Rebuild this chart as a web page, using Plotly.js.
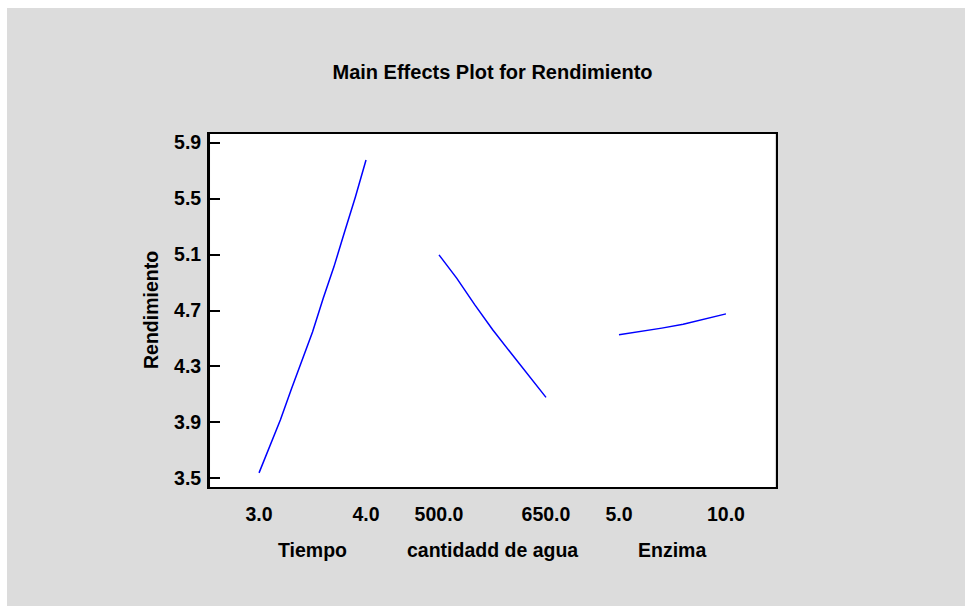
<!DOCTYPE html>
<html>
<head>
<meta charset="utf-8">
<script src="https://cdn.plot.ly/plotly-3.0.1.min.js"></script>
<style>
  html, body { margin: 0; padding: 0; background: #ffffff; width: 965px; height: 606px; overflow: hidden; }
  #chart { position: absolute; left: 7px; top: 8px; width: 958px; height: 598px; }
</style>
</head>
<body>
<div id="chart"></div>
<script>
// ---- data ----
const chartTitle = "Main Effects Plot for Rendimiento";
const yTitle = "Rendimiento";
const yTicks = [3.5, 3.9, 4.3, 4.7, 5.1, 5.5, 5.9];

const tiempoName = "Tiempo";
const tiempoX = [3.0, 3.1, 3.2, 3.3, 3.4, 3.5, 3.6, 3.7, 3.8, 3.9, 4.0];
const tiempoY = [3.539, 3.728, 3.919, 4.134, 4.343, 4.547, 4.787, 5.012, 5.263, 5.510, 5.776];
const tiempoLevels = [3.0, 4.0];
const tiempoLabels = ["3.0", "4.0"];

const aguaName = "cantidadd de agua";
const aguaX = [500, 525, 550, 575, 600, 625, 650];
const aguaY = [5.098, 4.930, 4.742, 4.564, 4.401, 4.237, 4.079];
const aguaLevels = [500, 650];
const aguaLabels = ["500.0", "650.0"];

const enzimaName = "Enzima";
const enzimaX = [5, 6, 7, 8, 9, 10];
const enzimaY = [4.526, 4.549, 4.574, 4.601, 4.636, 4.676];
const enzimaLevels = [5, 10];
const enzimaLabels = ["5.0", "10.0"];

// ---- styling / layout ----
const FONT = "Liberation Sans, Arial, sans-serif";
const fsize = 19.5;
const tsize = 20;
const lineColor = "#0000ff";

// each factor gets its own x-axis; centres and span in plot fractions
const centers = [0.1837, 0.5, 0.8163];
const levelSpan = 0.188;   // fraction of plot width between the two levels
const halfDom = 0.18;

function axisFor(idx, levels, labels) {
  const lo = levels[0], hi = levels[1];
  const mid = (lo + hi) / 2;
  const half = (halfDom / levelSpan) * (hi - lo);
  return {
    domain: [centers[idx] - halfDom, centers[idx] + halfDom],
    range: [mid - half, mid + half],
    tickvals: levels,
    ticktext: labels,
    ticks: "",
    showgrid: false,
    zeroline: false,
    showline: false,
    ticklabelstandoff: 12,
    tickfont: { family: FONT, size: fsize, color: "#000", weight: 700 },
    fixedrange: true,
    anchor: "y"
  };
}

const traces = [
  { x: tiempoX, y: tiempoY, xaxis: "x", yaxis: "y" },
  { x: aguaX, y: aguaY, xaxis: "x2", yaxis: "y" },
  { x: enzimaX, y: enzimaY, xaxis: "x3", yaxis: "y" }
].map(t => Object.assign(t, {
  type: "scatter", mode: "lines", line: { color: lineColor, width: 1.5 },
  showlegend: false, hoverinfo: "skip"
}));

const names = [tiempoName, aguaName, enzimaName];
const mids = [
  (tiempoLevels[0] + tiempoLevels[1]) / 2,
  (aguaLevels[0] + aguaLevels[1]) / 2,
  (enzimaLevels[0] + enzimaLevels[1]) / 2
];
const axRefs = ["x", "x2", "x3"];

const annotations = names.map((n, i) => ({
  text: n, xref: axRefs[i], x: mids[i], yref: "paper", y: -0.1746,
  xanchor: "center", yanchor: "middle", showarrow: false,
  font: { family: FONT, size: fsize, color: "#000", weight: 700 }
}));
annotations.push({
  text: yTitle, xref: "paper", x: -0.101, yref: "paper", y: 0.5,
  textangle: -90, xanchor: "center", yanchor: "middle", showarrow: false,
  font: { family: FONT, size: fsize, color: "#000", weight: 700 }
});

const layout = {
  width: 958, height: 598,
  paper_bgcolor: "#dcdcdc",
  plot_bgcolor: "#ffffff",
  margin: { l: 201, r: 188, t: 125, b: 118, pad: 0 },
  title: {
    text: chartTitle, xref: "paper", x: 0.5, xanchor: "center",
    yref: "container", y: 0.8935, yanchor: "middle",
    font: { family: FONT, size: tsize, color: "#000", weight: 700 }
  },
  xaxis: axisFor(0, tiempoLevels, tiempoLabels),
  xaxis2: axisFor(1, aguaLevels, aguaLabels),
  xaxis3: axisFor(2, enzimaLevels, enzimaLabels),
  yaxis: {
    range: [3.431, 5.969],
    tickvals: yTicks,
    ticktext: yTicks.map(v => v.toFixed(1)),
    ticks: "inside", ticklen: 10, tickwidth: 2, tickcolor: "#000",
    showline: true, linewidth: 2, linecolor: "#000", mirror: "ticks",
    showgrid: false, zeroline: false,
    ticklabelstandoff: 3,
    tickfont: { family: FONT, size: fsize, color: "#000", weight: 700 },
    fixedrange: true
  },
  shapes: [{
    type: "rect", xref: "paper", yref: "paper", x0: 0, x1: 1, y0: 0, y1: 1,
    line: { color: "#000", width: 2 }, fillcolor: "rgba(0,0,0,0)", layer: "above"
  }],
  annotations: annotations
};

Plotly.newPlot("chart", traces, layout, { displayModeBar: false, staticPlot: true });
</script>
</body>
</html>
